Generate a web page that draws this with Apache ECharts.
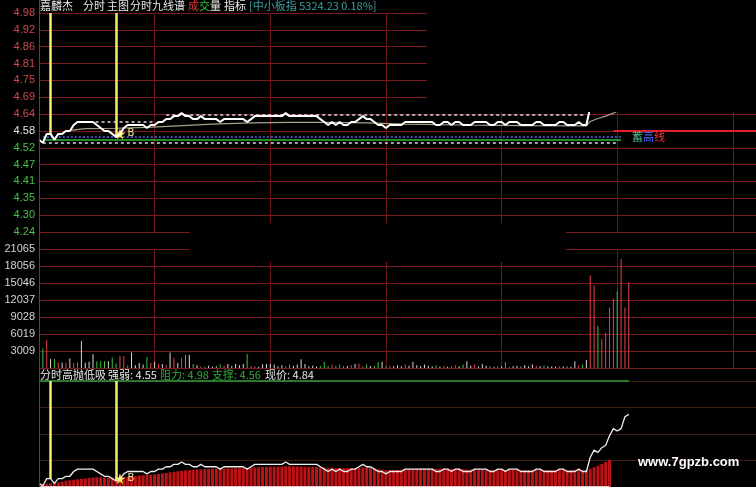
<!DOCTYPE html>
<html><head><meta charset="utf-8">
<script src="https://cdn.jsdelivr.net/npm/echarts@6/dist/echarts.min.js"></script>
<style>html,body{margin:0;padding:0;background:#000;}#c{width:756px;height:487px;}</style>
</head><body><div id="c"></div>
<script>
// ---------- data ----------
const priceTicks = ['4.98','4.92','4.86','4.81','4.75','4.69','4.64','4.58','4.52','4.47','4.41','4.35','4.30','4.24'];
const volumeTicks = ['', '3009', '6019', '9028', '12037', '15046', '18056', '21065'];
const prevClose = 4.58;
const priceStep = 0.05692;
// price per minute, minute 0..153
const prices = [
4.55,4.54,4.57,4.57,4.55,4.57,4.57,4.58,4.58,4.60,
4.61,4.61,4.61,4.61,4.61,4.60,4.59,4.58,4.58,4.57,
4.56,4.57,4.59,4.60,4.60,4.60,4.60,4.60,4.59,4.60,
4.60,4.61,4.61,4.62,4.62,4.63,4.63,4.64,4.63,4.63,
4.62,4.62,4.63,4.62,4.62,4.62,4.62,4.61,4.62,4.62,
4.62,4.62,4.62,4.62,4.61,4.62,4.63,4.63,4.63,4.63,
4.63,4.63,4.63,4.63,4.64,4.63,4.63,4.63,4.63,4.63,
4.63,4.63,4.63,4.62,4.61,4.60,4.61,4.60,4.61,4.60,
4.60,4.61,4.61,4.62,4.63,4.62,4.62,4.61,4.60,4.60,
4.59,4.60,4.60,4.60,4.60,4.61,4.61,4.61,4.61,4.61,
4.61,4.61,4.61,4.60,4.60,4.61,4.61,4.60,4.61,4.61,
4.60,4.60,4.60,4.61,4.61,4.61,4.61,4.60,4.60,4.61,
4.61,4.60,4.61,4.61,4.61,4.60,4.60,4.60,4.60,4.61,
4.61,4.60,4.60,4.60,4.60,4.61,4.61,4.60,4.60,4.60,
4.61,4.60,4.60,4.66,4.69,4.68,4.70,4.71,4.75,4.78,
4.77,4.78,4.83,4.84
];
// volume per minute, minute 1..153
const volumes = [
3450,5000,1600,1550,950,950,950,1700,950,1000,
4800,950,1100,2450,1200,1200,1200,1200,1850,800,
2140,2140,500,2730,500,900,600,1960,900,1100,
700,700,500,2730,1800,900,1800,2320,2320,700,
500,300,200,400,250,300,650,400,700,300,
700,500,700,2450,350,300,200,650,700,750,
600,300,500,300,600,400,600,1550,700,300,
400,250,350,1100,350,600,400,650,300,350,
500,700,800,300,600,300,400,1000,1100,300,
400,300,500,300,600,400,1100,500,300,600,
400,300,500,250,300,200,300,500,300,600,
1200,400,600,300,700,400,300,200,300,300,
1000,200,300,400,300,500,300,600,400,300,
500,300,250,200,300,250,300,200,1200,500,
600,1400,16420,14640,7500,5180,6250,10700,12300,13570,
19280,10700,15170
];
// lower-panel red bars, minute 1..148
const absorbBars = [
4.547,4.549,4.551,4.553,4.555,4.558,4.561,4.563,4.565,4.567,
4.569,4.571,4.573,4.575,4.576,4.576,4.575,4.574,4.572,4.571,
4.572,4.574,4.577,4.579,4.581,4.583,4.584,4.585,4.586,4.588,
4.590,4.592,4.594,4.597,4.599,4.601,4.603,4.605,4.606,4.607,
4.608,4.609,4.610,4.611,4.612,4.612,4.612,4.613,4.613,4.613,
4.614,4.614,4.615,4.615,4.616,4.617,4.618,4.619,4.620,4.620,
4.620,4.621,4.621,4.622,4.622,4.622,4.621,4.621,4.620,4.620,
4.620,4.619,4.618,4.617,4.616,4.616,4.615,4.615,4.614,4.614,
4.614,4.615,4.616,4.617,4.617,4.616,4.614,4.611,4.608,4.606,
4.606,4.606,4.607,4.608,4.609,4.610,4.611,4.612,4.613,4.613,
4.613,4.613,4.612,4.612,4.612,4.612,4.611,4.611,4.611,4.610,
4.609,4.609,4.609,4.609,4.608,4.608,4.607,4.607,4.607,4.607,
4.607,4.607,4.607,4.607,4.606,4.606,4.606,4.606,4.606,4.606,
4.606,4.606,4.606,4.606,4.606,4.606,4.606,4.606,4.606,4.606,
4.606,4.607,4.612,4.618,4.624,4.632,4.640,4.648
];
// average price line [minute, price]
const avgPoints = [[8,4.582],[12,4.588],[20,4.589],[28,4.592],[36,4.597],[45,4.603],[55,4.607],[65,4.609],[75,4.609],[85,4.607],[95,4.603],[110,4.600],[125,4.598],[142,4.597],[143,4.612],[145,4.622],[147,4.630],[149,4.640],[151,4.655],[153,4.670]];
const dayLow = 4.54, strongLevel = 4.55, supportLevel = 4.56, resistLevel = 4.98, lastPrice = 4.84;
const highSteps = [[10, 30, 4.61], [33, 142, 4.635]]; // [fromMinute, toMinute, level]
const levelSpan = [1, 151];
const signalMinutes = [3, 20];
const buyMinute = 21;
const prevCloseFrom = 149;
const lowerPaneRange = [4.535, 4.98];
const visibleMinutes = 186;   // minutes shown across the visible width (30-minute grid)

// ---------- build ----------
const pricePairs = prices.map((p, i) => [i, p]);
const up = '#e8434a', down = '#3cc23c', flat = '#d8d8d8';
const volData = volumes.map((v, j) => {
  const m = j + 1;
  const c = prices[m] > prices[m - 1] ? up : (prices[m] < prices[m - 1] ? down : flat);
  return { value: [m, v], itemStyle: { color: c } };
});
const absorbData = absorbBars.map((v, j) => [j + 1, v]);
const topPrice = prevClose + 7 * priceStep, botPrice = prevClose - 6 * priceStep;

const seg = (a, b, v, style) => [{ coord: [a, v], lineStyle: style }, { coord: [b, v] }];
const yellow = { color: '#f2ee6a', width: 2.5, type: 'solid' };
const dashW = { color: '#d9d9d9', width: 1.5, type: [3, 3] };

const topMarkLines = [
  seg(levelSpan[0], levelSpan[1] - 1, dayLow, dashW),
  seg(levelSpan[0], levelSpan[1], strongLevel, { color: '#2fb83a', width: 1.6, type: 'solid' }),
  seg(levelSpan[0], levelSpan[1], supportLevel, { color: '#5068f0', width: 1.5, type: [2, 2] }),
  ...highSteps.map(h => seg(h[0], h[1], h[2], dashW)),
  seg(prevCloseFrom, visibleMinutes, prevClose, { color: '#e0202a', width: 2, type: 'solid' }),
  ...signalMinutes.map(m => [{ coord: [m, topPrice], lineStyle: yellow }, { coord: [m, prices[m]] }])
];
const botMarkLines = [
  seg(0, prices.length - 1, resistLevel, { color: '#2f9e3a', width: 1.5, type: 'solid' }),
  seg(0, absorbBars.length, dayLow, { color: '#e6c8c8', width: 1, type: 'solid' }),
  ...signalMinutes.map(m => [{ coord: [m, resistLevel], lineStyle: yellow }, { coord: [m, prices[m]] }])
];
const starPath = 'path://M50,0 L61,35 L98,35 L68,57 L79,91 L50,70 L21,91 L32,57 L2,35 L39,35 Z';
const starPoint = {
  symbol: starPath, symbolSize: 11, silent: true,
  itemStyle: { color: '#ffe84a' },
  label: { show: true, position: 'right', distance: 2, formatter: 'B', color: '#f0e8a0', fontSize: 10, fontFamily: 'DejaVu Sans' },
  data: [{ coord: [buyMinute, prices[buyMinute]] }]
};

const gridColor = '#7c1820';
const cjk = '"Noto Sans CJK SC", sans-serif';
const labelFont = '"Liberation Sans", Arial, sans-serif';

const xAxes = [0, 1, 2].map(g => ({
  type: 'value', gridIndex: g, min: 0, max: visibleMinutes, interval: 30,
  axisLine: { show: false }, axisTick: { show: false }, axisLabel: { show: false },
  splitLine: { show: g < 2, lineStyle: { color: '#6e151b', width: 1 } }
}));

const option = {
  backgroundColor: '#000',
  animation: false,
  grid: [
    { left: 39, top: 13, right: 0, height: 219 },
    { left: 39, top: 249, right: 0, height: 119 },
    { left: 39, top: 381, right: 0, height: 106 }
  ],
  xAxis: xAxes,
  yAxis: [
    { type: 'value', gridIndex: 0, min: 0, max: priceTicks.length - 1, interval: 1, inverse: true,
      axisLine: { show: true, lineStyle: { color: '#b01c22' } }, axisTick: { show: false },
      splitLine: { show: true, lineStyle: { color: gridColor, width: 1 } },
      axisLabel: { margin: 4, fontSize: 11, fontFamily: labelFont,
        formatter: v => { const k = Math.round(v); const t = priceTicks[k]; return k < 7 ? '{r|' + t + '}' : (k === 7 ? '{w|' + t + '}' : '{g|' + t + '}'); },
        rich: { r: { color: '#d0484c', fontSize: 11, fontFamily: labelFont }, w: { color: '#e6e6e6', fontSize: 11, fontFamily: labelFont }, g: { color: '#46c046', fontSize: 11, fontFamily: labelFont } } } },
    { type: 'value', gridIndex: 0, min: botPrice, max: topPrice, show: false, splitLine: { show: false } },
    { type: 'value', gridIndex: 1, min: 0, max: volumeTicks.length - 1, interval: 1,
      axisLine: { show: true, lineStyle: { color: '#b01c22' } }, axisTick: { show: false },
      splitLine: { show: true, lineStyle: { color: gridColor, width: 1 } },
      axisLabel: { margin: 4, fontSize: 11, fontFamily: labelFont, color: '#d4d4d4', formatter: v => volumeTicks[Math.round(v)] } },
    { type: 'value', gridIndex: 1, min: 0, max: Number(volumeTicks[volumeTicks.length - 1]), show: false, splitLine: { show: false } },
    { type: 'value', gridIndex: 2, min: 0, max: 4, interval: 1,
      axisLine: { show: true, lineStyle: { color: '#b01c22' } }, axisTick: { show: false }, axisLabel: { show: false },
      splitLine: { show: true, lineStyle: { color: '#3e1c12', width: 1 } } },
    { type: 'value', gridIndex: 2, min: lowerPaneRange[0], max: lowerPaneRange[1], show: false, splitLine: { show: false } }
  ],
  series: [
    { type: 'bar', xAxisIndex: 1, yAxisIndex: 3, barWidth: 1, data: volData, silent: true },
    { type: 'bar', xAxisIndex: 2, yAxisIndex: 5, barWidth: 3, data: absorbData, silent: true, clip: true,
      itemStyle: { color: '#bc1216' } },
    { type: 'line', xAxisIndex: 0, yAxisIndex: 1, data: avgPoints, symbol: 'none', silent: true,
      lineStyle: { color: '#aa9f88', width: 1.2 } },
    { type: 'line', xAxisIndex: 0, yAxisIndex: 1, data: pricePairs, symbol: 'none', silent: true, z: 5,
      lineStyle: { color: '#ffffff', width: 2 },
      markLine: { symbol: 'none', silent: true, label: { show: false }, data: topMarkLines },
      markPoint: starPoint },
    { type: 'line', xAxisIndex: 2, yAxisIndex: 5, data: pricePairs, symbol: 'none', silent: true, z: 5,
      lineStyle: { color: '#eeeeee', width: 1.3 },
      markLine: { symbol: 'none', silent: true, label: { show: false }, data: botMarkLines },
      markPoint: starPoint }
  ],
  graphic: [
    { type: 'rect', z: 100, shape: { x: 427, y: 0, width: 329, height: 112 }, style: { fill: '#000' } },
    { type: 'rect', z: 100, shape: { x: 190, y: 223, width: 376, height: 39 }, style: { fill: '#000' } },
    { type: 'line', z: 99, shape: { x1: 39.5, y1: 0, x2: 39.5, y2: 487 }, style: { stroke: '#b01c22', lineWidth: 1 } },
    ...[
      ['嘉麟杰', 40, '#e8e8e8'], ['分时', 83, '#e8e8e8'], ['主图', 107, '#e8e8e8'], ['分时九线谱', 130, '#e8e8e8'],
      ['成', 188, '#e0343a'], ['交', 199, '#38c038'], ['量', 210, '#e8e8e8'], ['指标', 224, '#e8e8e8'],
      ['[中小板指 5324.23 0.18%]', 249, '#3f9f9f']
    ].map(t => ({ type: 'text', z: 101, x: t[1], y: 6, style: { text: t[0], fill: t[2], font: '11px ' + cjk, verticalAlign: 'middle' } })),
    ...[
      ['分时高抛低吸', 40, '#e8e8e8'], ['强弱: ' + strongLevel.toFixed(2), 108, '#e8e8e8'],
      ['阻力: ' + resistLevel.toFixed(2), 160, '#2fae3a'], ['支撑: ' + supportLevel.toFixed(2), 212, '#2fae3a'],
      ['现价: ' + lastPrice.toFixed(2), 265, '#e8e8e8']
    ].map(t => ({ type: 'text', z: 101, x: t[1], y: 375, style: { text: t[0], fill: t[2], font: '11px ' + cjk, verticalAlign: 'middle' } })),
    ...[['蓄', 632, '#4cc08a'], ['高', 643, '#4a66ff'], ['线', 654, '#ff3434']]
      .map(t => ({ type: 'text', z: 101, x: t[1], y: 137, style: { text: t[0], fill: t[2], font: '11px ' + cjk, verticalAlign: 'middle' } })),
    { type: 'text', z: 101, x: 638, y: 462, style: { text: 'www.7gpzb.com', fill: '#ffffff', font: 'bold 13px "Liberation Sans", Arial, sans-serif', verticalAlign: 'middle' } }
  ]
};
const chart = echarts.init(document.getElementById('c'), null, { renderer: 'canvas' });
chart.setOption(option);
</script>
</body></html>
